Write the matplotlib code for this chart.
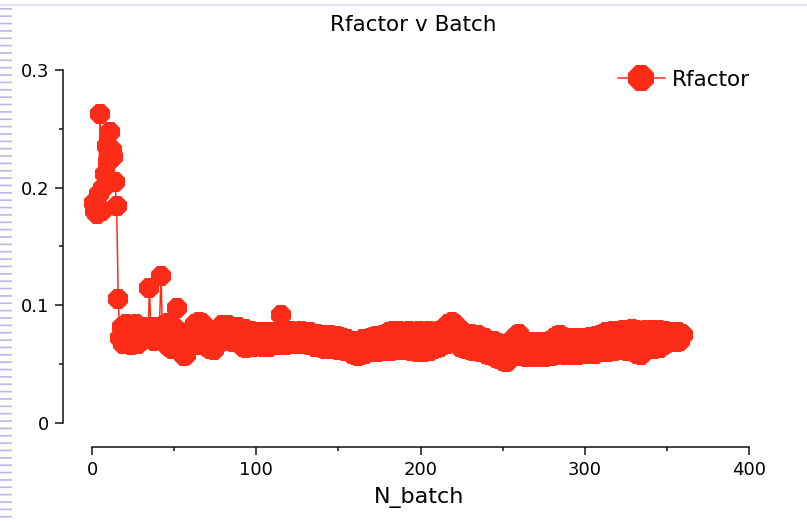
import numpy as np
import matplotlib.pyplot as plt
from matplotlib.lines import Line2D
from matplotlib.ticker import MultipleLocator, FuncFormatter

plt.rcParams['lines.scale_dashes'] = False

# Data
n_batch = np.arange(1, 361)
rfactor = [
    0.187, 0.180, 0.178, 0.195, 0.263, 0.180, 0.200, 0.212, 0.235, 0.222,
    0.247, 0.232, 0.226, 0.205, 0.184, 0.105, 0.072, 0.082, 0.067, 0.080,
    0.084, 0.068, 0.078, 0.066, 0.082, 0.070, 0.084, 0.067, 0.079, 0.070,
    0.082, 0.072, 0.080, 0.071, 0.115, 0.073, 0.082, 0.070, 0.081, 0.073,
    0.080, 0.125, 0.071, 0.083, 0.067, 0.085, 0.065, 0.081, 0.063, 0.082,
    0.069, 0.098, 0.077, 0.064, 0.062, 0.057, 0.058, 0.064, 0.075, 0.066,
    0.080, 0.067, 0.084, 0.069, 0.086, 0.066, 0.085, 0.072, 0.082, 0.065,
    0.078, 0.063, 0.076, 0.062, 0.079, 0.066, 0.077, 0.069, 0.083, 0.070,
    0.082, 0.072, 0.083, 0.071, 0.081, 0.069, 0.080, 0.072, 0.082, 0.068,
    0.079, 0.065, 0.080, 0.064, 0.077, 0.066, 0.078, 0.065, 0.076, 0.067,
    0.077, 0.066, 0.076, 0.065, 0.077, 0.067, 0.075, 0.065, 0.077, 0.066,
    0.076, 0.067, 0.075, 0.066, 0.092, 0.068, 0.077, 0.066, 0.076, 0.067,
    0.078, 0.068, 0.077, 0.067, 0.076, 0.068, 0.078, 0.067, 0.077, 0.068,
    0.076, 0.066, 0.077, 0.067, 0.075, 0.065, 0.076, 0.066, 0.074, 0.064,
    0.075, 0.063, 0.074, 0.065, 0.075, 0.063, 0.073, 0.064, 0.074, 0.062,
    0.073, 0.063, 0.072, 0.061, 0.071, 0.062, 0.070, 0.059, 0.069, 0.058,
    0.070, 0.057, 0.068, 0.058, 0.071, 0.059, 0.069, 0.060, 0.072, 0.060,
    0.073, 0.061, 0.074, 0.060, 0.072, 0.062, 0.075, 0.061, 0.076, 0.063,
    0.077, 0.061, 0.078, 0.063, 0.076, 0.062, 0.078, 0.064, 0.077, 0.062,
    0.076, 0.063, 0.078, 0.061, 0.077, 0.062, 0.076, 0.060, 0.078, 0.061,
    0.077, 0.060, 0.076, 0.062, 0.078, 0.061, 0.075, 0.063, 0.077, 0.064,
    0.078, 0.065, 0.079, 0.066, 0.081, 0.067, 0.084, 0.069, 0.086, 0.072,
    0.084, 0.068, 0.080, 0.065, 0.078, 0.064, 0.076, 0.063, 0.075, 0.062,
    0.076, 0.061, 0.074, 0.062, 0.075, 0.060, 0.073, 0.061, 0.072, 0.059,
    0.070, 0.058, 0.069, 0.057, 0.070, 0.055, 0.068, 0.054, 0.067, 0.053,
    0.065, 0.052, 0.053, 0.058, 0.068, 0.057, 0.072, 0.061, 0.075, 0.076,
    0.070, 0.057, 0.068, 0.056, 0.069, 0.057, 0.068, 0.056, 0.069, 0.057,
    0.068, 0.056, 0.069, 0.057, 0.068, 0.056, 0.069, 0.058, 0.070, 0.057,
    0.072, 0.058, 0.074, 0.059, 0.075, 0.060, 0.073, 0.058, 0.071, 0.059,
    0.072, 0.058, 0.071, 0.059, 0.072, 0.058, 0.070, 0.059, 0.072, 0.060,
    0.071, 0.059, 0.073, 0.060, 0.072, 0.059, 0.074, 0.061, 0.075, 0.060,
    0.076, 0.061, 0.077, 0.060, 0.076, 0.062, 0.078, 0.061, 0.077, 0.063,
    0.078, 0.062, 0.079, 0.063, 0.078, 0.061, 0.079, 0.062, 0.080, 0.060,
    0.079, 0.059, 0.078, 0.058, 0.077, 0.060, 0.079, 0.063, 0.078, 0.064,
    0.079, 0.063, 0.078, 0.065, 0.079, 0.064, 0.077, 0.066, 0.078, 0.068,
    0.076, 0.069, 0.077, 0.070, 0.076, 0.069, 0.077, 0.070, 0.076, 0.075,
]

red = '#fd2c18'
W, H = 807, 522

fig = plt.figure(figsize=(W / 100, H / 100), dpi=100)
fig.patch.set_facecolor('white')

# slide decoration: dashed strip on the left and faint line on top
fig.add_artist(Line2D([6 / W, 6 / W], [1 - 8 / H, 0], transform=fig.transFigure,
                      color='#b8b8ec', lw=8.6, dashes=(1.2, 4.1),
                      dash_capstyle='butt'))
fig.add_artist(Line2D([0, 1], [1 - 5 / H, 1 - 5 / H], transform=fig.transFigure,
                      color='#dcdcf6', lw=1.2))

ax = fig.add_axes([92 / W, 99 / H, 657 / W, 353 / H])
ax.plot(n_batch, rfactor, color=red, lw=1.1, marker='8', markersize=15,
        markeredgewidth=0, label='Rfactor', clip_on=False)

ax.set_xlim(0, 400)
ax.set_ylim(0, 0.3)
for s in ['top', 'right']:
    ax.spines[s].set_visible(False)
ax.spines['left'].set_position(('outward', 21))
ax.spines['bottom'].set_position(('outward', 17.3))
ax.spines['left'].set_bounds(0, 0.3)
ax.spines['bottom'].set_bounds(0, 400)
for s in ['left', 'bottom']:
    ax.spines[s].set_linewidth(1.1)
    ax.spines[s].set_color('#111111')

ax.xaxis.set_major_locator(MultipleLocator(100))
ax.xaxis.set_minor_locator(MultipleLocator(50))
ax.yaxis.set_major_locator(MultipleLocator(0.1))
ax.yaxis.set_minor_locator(MultipleLocator(0.05))
ax.yaxis.set_major_formatter(FuncFormatter(lambda v, p: '%g' % round(v, 3)))
ax.tick_params(which='major', length=6, width=1.1, color='#111111',
               labelsize=13, pad=4)
ax.tick_params(which='minor', length=3, width=1.1, color='#111111')

fig.text(413.5 / W, 1 - 25 / H, 'Rfactor v Batch', ha='center', va='center',
         fontsize=15.5)
fig.text(419.5 / W, 1 - 497 / H, 'N_batch', ha='center', va='center',
         fontsize=16)

ax.legend(loc='center left', bbox_to_anchor=(607 / W, 1 - 80 / H),
          bbox_transform=fig.transFigure, frameon=False, borderpad=0,
          handlelength=2.2, handletextpad=0.3, markerscale=1.3, fontsize=15.5)

fig.savefig('out.png', dpi=100)
